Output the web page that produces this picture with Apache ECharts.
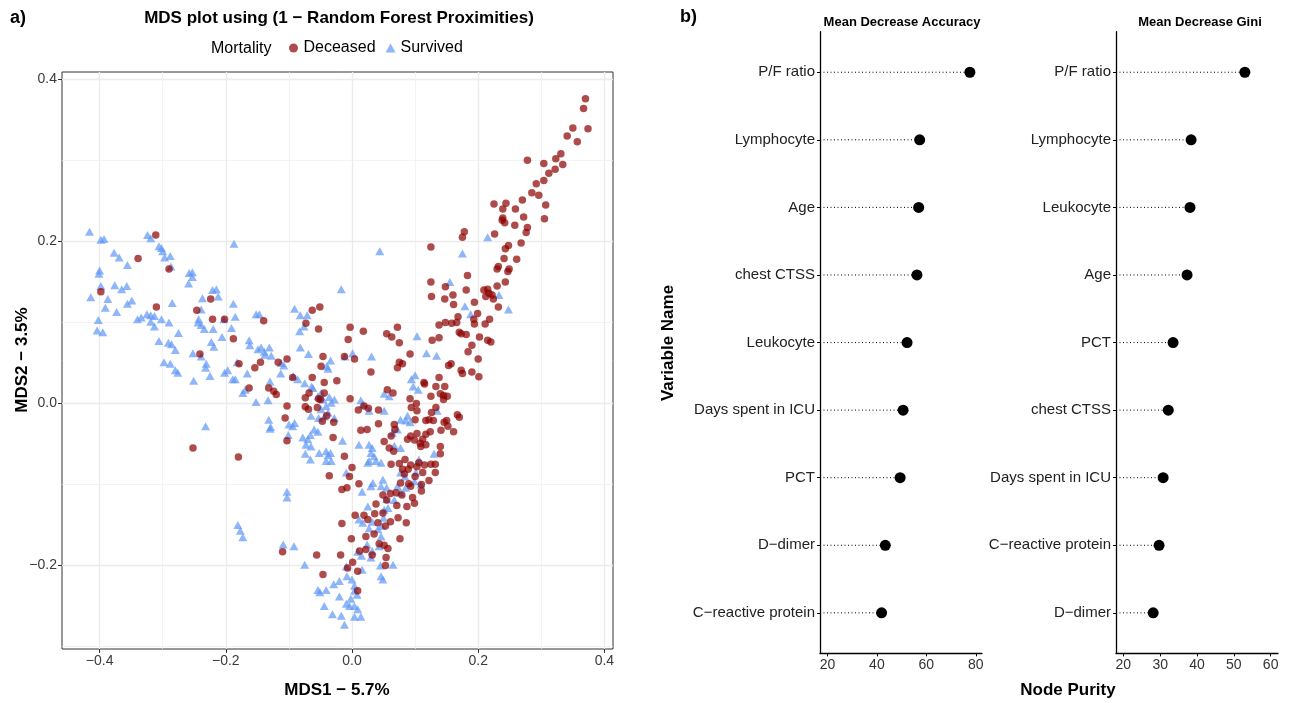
<!DOCTYPE html>
<html><head><meta charset="utf-8">
<script src="https://cdn.jsdelivr.net/npm/echarts@6/dist/echarts.min.js"></script>
<style>html,body{margin:0;padding:0;background:#fff}#c{width:1295px;height:703px}</style>
</head><body><div id="c"></div>
<script>
// ---------- Panel a) MDS scatter: values ----------
const deceasedPoints = [
[-0.311,0.208],[-0.339,0.179],[-0.290,0.166],[-0.398,0.138],[-0.310,0.119],[-0.224,0.129],[-0.246,0.115],[-0.221,0.104],[-0.202,0.104],[-0.188,0.080],[-0.140,0.102],[-0.073,0.099],[-0.063,0.115],[-0.051,0.119],[-0.053,0.092],[-0.003,0.094],[-0.006,0.079],[-0.241,0.061],
[0.370,0.376],[0.367,0.364],[0.374,0.339],[0.350,0.340],[0.341,0.330],[0.357,0.323],[0.331,0.308],[0.323,0.302],[0.334,0.295],[0.322,0.289],[0.312,0.284],[0.304,0.296],[0.278,0.300],[0.304,0.275],[0.292,0.271],[0.285,0.260],[0.296,0.257],[0.307,0.245],[0.305,0.228],[0.270,0.251],[0.259,0.240],[0.272,0.230],[0.258,0.220],[0.225,0.246],[0.244,0.247],[0.239,0.240],[0.239,0.229],[0.238,0.226],[0.242,0.223],[0.278,0.217],[0.276,0.211],[0.226,0.209],[0.268,0.198],[0.248,0.195],[0.243,0.191],[0.241,0.179],[0.261,0.178],[0.232,0.169],[0.230,0.166],[0.249,0.166],[0.247,0.163],[0.243,0.150],[0.230,0.145],[0.178,0.212],[0.175,0.205],[0.125,0.193],[0.183,0.158],[0.125,0.150],[0.126,0.132],[0.148,0.144],[0.160,0.134],[0.147,0.129],[0.161,0.122],[0.181,0.140],[0.209,0.140],[0.215,0.141],[0.212,0.132],[0.217,0.136],[0.224,0.129],[0.222,0.134],[0.194,0.125],[0.232,0.119],[0.199,0.111],[0.193,0.104],[0.194,0.098],[0.218,0.104],[0.211,0.098],[0.168,0.107],[0.166,0.100],[0.158,0.099],[0.148,0.100],[0.138,0.097],[0.170,0.088],[0.173,0.086],[0.181,0.085],[0.202,0.082],[0.215,0.078],[0.220,0.076],[0.190,0.072],[0.184,0.064],[0.127,0.078],[0.138,0.081],[0.072,0.094],[0.055,0.086],[0.063,0.082],[0.075,0.075],[0.018,0.089],[0.092,0.061],
[-0.179,0.049],[-0.154,0.044],[-0.145,0.051],[-0.117,0.051],[-0.103,0.055],[-0.163,0.019],[-0.132,0.019],[-0.124,0.015],[-0.120,0.011],[-0.103,-0.003],[-0.106,-0.018],[-0.103,-0.046],[-0.094,0.032],[-0.252,-0.055],[-0.180,-0.066],[-0.110,-0.183],
[-0.046,0.058],[-0.049,0.046],[-0.063,0.032],[-0.044,0.026],[-0.024,0.028],[-0.068,0.013],[-0.074,0.007],[-0.074,-0.004],[-0.069,-0.007],[-0.055,-0.005],[-0.044,0.013],[-0.053,0.006],[-0.050,0.005],[-0.040,-0.015],[-0.047,-0.022],[-0.029,-0.023],[-0.003,0.006],[-0.030,-0.042],[-0.012,-0.065],[-0.036,-0.089],[0.000,-0.079],[-0.004,-0.090],[-0.016,-0.106],[-0.008,-0.104],[-0.016,-0.148],[-0.001,-0.167],[-0.056,-0.187],[-0.018,-0.187],[-0.007,-0.203],[-0.046,-0.211],[-0.012,0.058],
[0.004,0.055],[0.030,0.039],[0.075,0.051],[0.072,0.044],[0.080,0.049],[0.153,0.047],[0.157,0.049],[0.173,0.041],[0.175,0.037],[0.190,0.039],[0.201,0.033],[0.200,0.055],[0.138,0.032],[0.114,0.026],[0.115,0.024],[0.133,0.021],[0.147,0.021],[0.125,0.009],[0.140,0.012],[0.145,0.010],[0.151,0.009],[0.145,0.005],[0.010,-0.008],[0.019,-0.003],[0.026,-0.006],[0.042,-0.008],[0.056,0.017],[0.065,0.013],[0.092,0.006],[0.102,0.000],[0.094,-0.005],[0.103,-0.009],[0.133,-0.005],[0.126,-0.011],[0.122,-0.020],[0.117,-0.021],[0.100,-0.020],[0.129,-0.021],[0.150,-0.021],[0.146,-0.023],[0.167,-0.014],[0.170,-0.017],[0.152,-0.028],[0.141,-0.033],[0.161,-0.035],[0.042,-0.025],[0.014,-0.033],[0.024,-0.032],[0.067,-0.026],[0.068,-0.032],[0.062,-0.040],[0.051,-0.047],[0.059,-0.055],[0.066,-0.059],[0.093,-0.040],[0.103,-0.037],[0.088,-0.044],[0.099,-0.045],[0.108,-0.049],[0.117,-0.038],[0.124,-0.035],[0.112,-0.044],[0.117,-0.051],[0.140,-0.053],[0.140,-0.062],[0.109,-0.053],[0.062,-0.075],[0.075,-0.074],[0.084,-0.069],[0.080,-0.081],[0.089,-0.081],[0.083,-0.087],[0.093,-0.076],[0.106,-0.073],[0.115,-0.076],[0.125,-0.075],[0.132,-0.075],[0.132,-0.085],[0.112,-0.085],[0.103,-0.078],[0.077,-0.098],[0.090,-0.099],[0.093,-0.102],[0.100,-0.090],[0.110,-0.100],[0.110,-0.108],[0.122,-0.095],[0.011,-0.099],[0.049,-0.113],[0.061,-0.111],[0.070,-0.110],[0.079,-0.113],[0.096,-0.116],[0.099,-0.123],[0.087,-0.127],[0.038,-0.124],[0.055,-0.119],[0.071,-0.126],[0.005,-0.138],[0.019,-0.138],[0.036,-0.136],[0.049,-0.135],[0.041,-0.147],[0.061,-0.146],[0.073,-0.141],[0.086,-0.147],[0.025,-0.143],[0.053,-0.151],[0.022,-0.164],[0.035,-0.161],[0.076,-0.167],[0.051,-0.175],[0.057,-0.179],[0.043,-0.173],[0.012,-0.182],[0.022,-0.180],[0.032,-0.187],[0.054,-0.190],[0.053,-0.200],[0.001,-0.196],[0.009,-0.231],[0.009,-0.207]
];
const survivedPoints = [
[-0.416,0.212],[-0.398,0.202],[-0.393,0.203],[-0.377,0.186],[-0.369,0.180],[-0.356,0.171],[-0.400,0.164],[-0.401,0.160],[-0.398,0.145],[-0.414,0.131],[-0.387,0.129],[-0.391,0.118],[-0.402,0.103],[-0.404,0.090],[-0.395,0.088],[-0.376,0.146],[-0.365,0.141],[-0.357,0.145],[-0.373,0.113],[-0.356,0.123],[-0.349,0.127],[-0.324,0.208],[-0.319,0.204],[-0.306,0.194],[-0.302,0.192],[-0.300,0.188],[-0.297,0.180],[-0.288,0.182],[-0.287,0.169],[-0.340,0.104],[-0.334,0.106],[-0.325,0.110],[-0.319,0.109],[-0.319,0.101],[-0.313,0.108],[-0.302,0.104],[-0.313,0.095],[-0.290,0.100],[-0.306,0.077],[-0.291,0.075],[-0.286,0.073],[-0.280,0.066],[-0.275,0.087],[-0.285,0.124],[-0.258,0.161],[-0.253,0.162],[-0.253,0.156],[-0.259,0.148],[-0.237,0.130],[-0.221,0.140],[-0.215,0.141],[-0.212,0.132],[-0.239,0.116],[-0.243,0.104],[-0.244,0.100],[-0.239,0.097],[-0.234,0.092],[-0.220,0.092],[-0.223,0.076],[-0.219,0.070],[-0.206,0.082],[-0.191,0.093],[-0.188,0.123],[-0.185,0.107],[-0.187,0.197],[-0.203,0.104],[-0.163,0.078],[-0.162,0.072],[-0.152,0.110],[-0.147,0.110],[-0.149,0.067],[-0.144,0.069],[-0.139,0.064],[-0.131,0.069],[-0.091,0.117],[-0.082,0.109],[-0.071,0.109],[-0.083,0.089],[-0.076,0.095],[-0.082,0.069],[-0.017,0.141],[-0.252,0.062],[-0.069,0.061],
[0.044,0.188],[0.215,0.205],[0.175,0.185],[0.155,0.150],[0.233,0.134],[0.248,0.116],[0.179,0.120],[0.188,0.110],[0.103,0.083],[0.118,0.062],[0.134,0.059],[0.031,0.058],[0.001,0.062],[-0.011,0.058],
[-0.239,0.058],[-0.231,0.049],[-0.232,0.044],[-0.225,0.034],[-0.251,0.028],[-0.298,0.051],[-0.288,0.049],[-0.280,0.041],[-0.276,0.038],[-0.202,0.038],[-0.197,0.041],[-0.189,0.030],[-0.185,0.030],[-0.182,0.051],[-0.166,0.037],[-0.173,0.013],[-0.169,0.017],[-0.152,0.002],[-0.133,0.004],[-0.130,0.027],[-0.128,0.059],[-0.138,0.060],[-0.113,0.037],[-0.108,0.047],[-0.093,0.034],[-0.086,0.030],[-0.132,-0.020],[-0.129,-0.029],[-0.130,-0.031],[-0.232,-0.028],[-0.100,-0.026],[-0.091,-0.024],[-0.094,-0.028],[-0.101,-0.039],[-0.103,-0.109],[-0.103,-0.116],[-0.181,-0.150],[-0.177,-0.157],[-0.173,-0.165],[-0.109,-0.174],[-0.092,-0.176],[-0.112,0.050],
[-0.075,0.025],[-0.064,0.021],[-0.049,0.013],[-0.036,0.008],[-0.028,0.005],[-0.033,0.001],[-0.034,0.053],[-0.040,0.046],[-0.038,0.043],[-0.078,-0.042],[-0.070,-0.044],[-0.073,-0.051],[-0.066,-0.039],[-0.054,-0.035],[-0.060,-0.032],[-0.065,-0.015],[-0.053,-0.018],[-0.044,-0.016],[-0.038,-0.011],[-0.028,-0.018],[-0.049,-0.007],[-0.041,-0.003],[-0.074,-0.062],[-0.066,-0.069],[-0.052,-0.061],[-0.041,-0.059],[-0.038,-0.064],[-0.033,-0.071],[-0.041,-0.071],[-0.015,-0.046],[-0.075,-0.199],[-0.009,-0.201],[-0.008,-0.213],[-0.020,-0.219],[-0.029,-0.223],[0.000,-0.217],[-0.054,-0.230],[-0.051,-0.233],[-0.041,-0.230],[-0.020,-0.238],[-0.009,-0.247],[-0.002,-0.241],[-0.044,-0.250],[-0.031,-0.260],[-0.017,-0.262],[-0.012,-0.273],[-0.004,-0.250],[-0.034,-0.061],[-0.009,-0.085],[-0.065,-0.053],[-0.062,0.019],[-0.054,0.009],[-0.046,0.005],
[0.094,0.030],[0.100,0.035],[0.097,0.021],[0.105,0.017],[0.051,0.012],[0.059,0.009],[0.014,0.004],[0.017,-0.001],[0.051,-0.009],[0.027,-0.009],[0.088,-0.015],[0.077,-0.020],[0.085,-0.021],[0.092,-0.023],[0.135,-0.009],[0.011,-0.051],[0.027,-0.051],[0.032,-0.055],[0.064,-0.036],[0.072,-0.032],[0.067,-0.052],[0.077,-0.055],[0.035,-0.065],[0.027,-0.071],[0.038,-0.071],[0.046,-0.073],[0.030,-0.061],[0.025,-0.073],[0.077,-0.085],[0.084,-0.090],[0.101,-0.085],[0.106,-0.069],[0.130,-0.062],[0.099,-0.096],[0.033,-0.098],[0.049,-0.094],[0.046,-0.102],[0.055,-0.104],[0.030,-0.102],[0.072,-0.102],[0.085,-0.104],[0.077,-0.110],[0.109,-0.100],[0.016,-0.109],[0.025,-0.127],[0.055,-0.118],[0.057,-0.129],[0.067,-0.119],[0.051,-0.131],[0.011,-0.143],[0.017,-0.147],[0.032,-0.146],[0.050,-0.141],[0.047,-0.151],[0.027,-0.154],[0.041,-0.155],[0.046,-0.164],[0.024,-0.174],[0.043,-0.176],[0.009,-0.183],[0.015,-0.188],[0.032,-0.182],[0.030,-0.190],[0.016,-0.205],[0.045,-0.200],[0.046,-0.213],[0.049,-0.217],[0.065,-0.199],[0.004,-0.225],[0.008,-0.236],[0.004,-0.250],[0.009,-0.254],[0.004,-0.263],[0.014,-0.263],[0.004,-0.231]
];
const mdsXTicks = [-0.4, -0.2, 0, 0.2, 0.4];
const mdsYTicks = [-0.2, 0, 0.2, 0.4];
const mdsXMinor = [-0.3, -0.1, 0.1, 0.3];
const mdsYMinor = [-0.3, -0.1, 0.1, 0.3];

// ---------- Panel b) variable importance ----------
const accVars = ['P/F ratio','Lymphocyte','Age','chest CTSS','Leukocyte','Days spent in ICU','PCT','D\u2212dimer','C\u2212reactive protein'];
const accVals = [77.6, 57.3, 56.9, 56.2, 52.2, 50.6, 49.4, 43.4, 41.9];
const giniVars = ['P/F ratio','Lymphocyte','Leukocyte','Age','PCT','chest CTSS','Days spent in ICU','C\u2212reactive protein','D\u2212dimer'];
const giniVals = [53.0, 38.4, 38.1, 37.3, 33.5, 32.2, 30.8, 29.7, 28.1];
const accTicks = [20, 40, 60, 80];
const giniTicks = [20, 30, 40, 50, 60];

const FONT = "'Liberation Sans', Arial, Helvetica, sans-serif";
const rowIdx = accVars.map((_, i) => i + 1);
const fmt = v => (v < -1e-9 ? '\u2212' : '') + Math.abs(v).toFixed(1);

function segItem(params, api) {
  const p = api.coord([api.value(0), api.value(1)]);
  return {
    type: 'line',
    shape: { x1: params.coordSys.x, y1: p[1], x2: p[0], y2: p[1] },
    style: { stroke: '#000', lineWidth: 1, lineDash: [1, 2.5] }
  };
}

function dotXAxis(grid, min, max, ticks, splitNumber) {
  return {
    gridIndex: grid, type: 'value', min: min, max: max, splitNumber: splitNumber,
    axisLine: { show: true, onZero: false, lineStyle: { color: '#000', width: 1.3 } },
    axisTick: { show: true, length: 3, customValues: ticks, lineStyle: { color: '#000' } },
    axisLabel: { customValues: ticks, fontSize: 14, color: '#333', margin: 5, fontFamily: FONT },
    splitLine: { show: false }
  };
}
function dotYAxis(grid, names) {
  return {
    gridIndex: grid, type: 'value', min: 0.4, max: 9.6, inverse: true,
    axisLine: { show: true, onZero: false, lineStyle: { color: '#000', width: 1.3 } },
    axisTick: { show: true, length: 3, customValues: rowIdx, lineStyle: { color: '#000' } },
    axisLabel: { customValues: rowIdx, fontSize: 15, color: '#222', margin: 5, fontFamily: FONT,
      formatter: v => names[Math.round(v) - 1] || '' },
    splitLine: { show: false }
  };
}

const chart = echarts.init(document.getElementById('c'), null, { renderer: 'canvas' });
chart.setOption({
  animation: false,
  backgroundColor: '#fff',
  textStyle: { fontFamily: FONT },
  grid: [
    { left: 62, top: 72, width: 551, height: 577, show: true, borderColor: '#333', borderWidth: 1, backgroundColor: 'rgba(0,0,0,0)' },
    { left: 820, top: 31.7, width: 162, height: 621.7 },
    { left: 1116, top: 31.7, width: 162, height: 621.7 }
  ],
  xAxis: [
    { gridIndex: 0, type: 'value', min: -0.45958, max: 0.41363, splitNumber: 5,
      axisLine: { show: false, onZero: false },
      axisTick: { show: true, length: 4, customValues: mdsXTicks, lineStyle: { color: '#333' } },
      axisLabel: { customValues: mdsXTicks, formatter: fmt,
        fontSize: 14, color: '#3A3A3A', margin: 5, fontFamily: FONT },
      splitLine: { show: true, lineStyle: { color: '#EBEBEB', width: 1.3 } } },
    dotXAxis(1, 17.0, 82.5, accTicks, 3),
    dotXAxis(2, 18.0, 62.0, giniTicks, 4)
  ],
  yAxis: [
    { gridIndex: 0, type: 'value', min: -0.30290, max: 0.40901, splitNumber: 4,
      axisLine: { show: false, onZero: false },
      axisTick: { show: true, length: 4, customValues: mdsYTicks, lineStyle: { color: '#333' } },
      axisLabel: { customValues: mdsYTicks, formatter: fmt,
        fontSize: 14, color: '#3A3A3A', margin: 5, fontFamily: FONT },
      splitLine: { show: true, lineStyle: { color: '#EBEBEB', width: 1.3 } } },
    dotYAxis(1, accVars),
    dotYAxis(2, giniVars)
  ],
  legend: {
    data: [{ name: 'Deceased', icon: 'circle' }, { name: 'Survived', icon: 'triangle' }],
    left: 284, top: 35, itemWidth: 10, itemHeight: 9, itemGap: 10, selectedMode: false,
    textStyle: { fontSize: 16, color: '#000', fontFamily: FONT }
  },
  series: [
    { type: 'scatter', name: 'grid-minor', xAxisIndex: 0, yAxisIndex: 0, data: [], silent: true, z: 1,
      markLine: { silent: true, symbol: ['none', 'none'], z: 1, animation: false,
        label: { show: false }, lineStyle: { color: '#EEEEEE', width: 0.7, type: 'solid' },
        data: mdsXMinor.map(v => ({ xAxis: v })).concat(mdsYMinor.map(v => ({ yAxis: v }))) } },
    { type: 'scatter', name: 'Survived', xAxisIndex: 0, yAxisIndex: 0, data: survivedPoints,
      symbol: 'triangle', symbolSize: [9, 8], z: 3,
      itemStyle: { color: '#5E97F6', opacity: 0.7 } },
    { type: 'scatter', name: 'Deceased', xAxisIndex: 0, yAxisIndex: 0, data: deceasedPoints,
      symbol: 'circle', symbolSize: 7.5, z: 4,
      itemStyle: { color: '#8B0000', opacity: 0.7 } },
    { type: 'custom', xAxisIndex: 1, yAxisIndex: 1, renderItem: segItem, z: 2,
      data: accVals.map((v, i) => [v, rowIdx[i]]) },
    { type: 'scatter', xAxisIndex: 1, yAxisIndex: 1, symbolSize: 11, z: 3,
      itemStyle: { color: '#000', opacity: 1 }, data: accVals.map((v, i) => [v, rowIdx[i]]) },
    { type: 'custom', xAxisIndex: 2, yAxisIndex: 2, renderItem: segItem, z: 2,
      data: giniVals.map((v, i) => [v, rowIdx[i]]) },
    { type: 'scatter', xAxisIndex: 2, yAxisIndex: 2, symbolSize: 11, z: 3,
      itemStyle: { color: '#000', opacity: 1 }, data: giniVals.map((v, i) => [v, rowIdx[i]]) }
  ],
  graphic: [
    { type: 'text', x: 10, y: 18, style: { text: 'a)', fontSize: 18, fontWeight: 'bold', fontFamily: FONT, fill: '#000', textVerticalAlign: 'middle' } },
    { type: 'text', x: 680, y: 17, style: { text: 'b)', fontSize: 18, fontWeight: 'bold', fontFamily: FONT, fill: '#000', textVerticalAlign: 'middle' } },
    { type: 'text', x: 339, y: 18, style: { text: 'MDS plot using (1 \u2212 Random Forest Proximities)', fontSize: 17, fontWeight: 'bold', fontFamily: FONT, fill: '#000', textAlign: 'center', textVerticalAlign: 'middle' } },
    { type: 'text', x: 211, y: 48.5, style: { text: 'Mortality', fontSize: 16, fontFamily: FONT, fill: '#000', textVerticalAlign: 'middle' } },
    { type: 'text', x: 337, y: 690, style: { text: 'MDS1 \u2212 5.7%', fontSize: 17, fontWeight: 'bold', fontFamily: FONT, fill: '#000', textAlign: 'center', textVerticalAlign: 'middle' } },
    { type: 'text', x: 22, y: 360, rotation: Math.PI / 2, style: { text: 'MDS2 \u2212 3.5%', fontSize: 17, fontWeight: 'bold', fontFamily: FONT, fill: '#000', textAlign: 'center', textVerticalAlign: 'middle' } },
    { type: 'text', x: 902, y: 22, style: { text: 'Mean Decrease Accuracy', fontSize: 13, fontWeight: 'bold', fontFamily: FONT, fill: '#000', textAlign: 'center', textVerticalAlign: 'middle' } },
    { type: 'text', x: 1200, y: 22, style: { text: 'Mean Decrease Gini', fontSize: 13, fontWeight: 'bold', fontFamily: FONT, fill: '#000', textAlign: 'center', textVerticalAlign: 'middle' } },
    { type: 'text', x: 668, y: 343, rotation: Math.PI / 2, style: { text: 'Variable Name', fontSize: 17, fontWeight: 'bold', fontFamily: FONT, fill: '#000', textAlign: 'center', textVerticalAlign: 'middle' } },
    { type: 'text', x: 1068, y: 690, style: { text: 'Node Purity', fontSize: 17, fontWeight: 'bold', fontFamily: FONT, fill: '#000', textAlign: 'center', textVerticalAlign: 'middle' } }
  ]
});
</script></body></html>
